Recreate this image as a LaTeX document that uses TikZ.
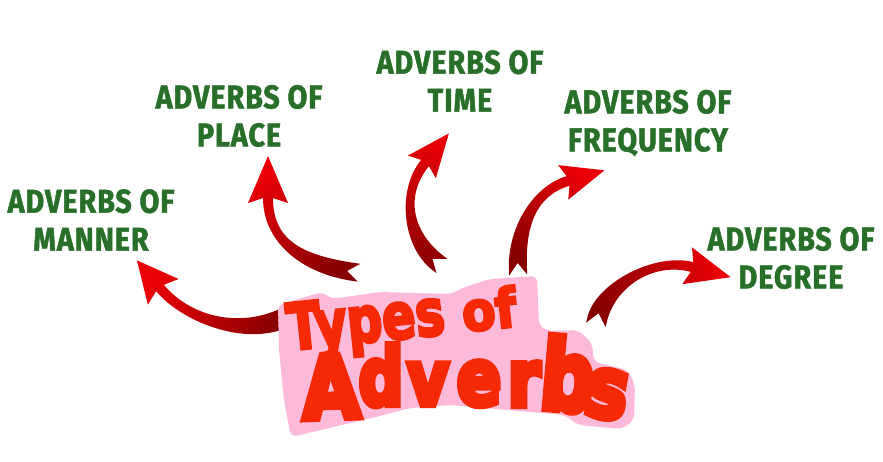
\documentclass[tikz,border=0pt]{standalone}
\usepackage{fontspec}
\setmainfont{Fira Sans}
\newfontfamily\titlefont[FakeBold=8]{DejaVu Sans}
\newfontfamily\titlefontB[FakeBold=5]{DejaVu Sans}
\newfontfamily\labelfont[FakeStretch=0.87,FakeBold=1.5,LetterSpace=3]{Fira Sans}
\usetikzlibrary{calc}
\definecolor{lblgreen}{RGB}{40,112,42}
\definecolor{titlered}{RGB}{245,42,5}
\definecolor{pinkbg}{RGB}{252,185,218}
\definecolor{arrowdark}{RGB}{135,0,0}
\definecolor{arrowbright}{RGB}{235,0,8}
\newcommand{\tarrow}[9]{%
 \coordinate (P0) at #1; \coordinate (P1) at #2; \coordinate (P2) at #3; \coordinate (P3) at #4;
 \coordinate (L0) at ($(P0)!#6!90:(P1)$);
 \coordinate (R0) at ($(P0)!#6!-90:(P1)$);
 \coordinate (L3) at ($(P3)!#7!-90:(P2)$);
 \coordinate (R3) at ($(P3)!#7!90:(P2)$);
 \coordinate (CL1) at ($(P1)+(L0)-(P0)$);
 \coordinate (CR1) at ($(P1)+(R0)-(P0)$);
 \coordinate (CL2) at ($(P2)+(L3)-(P3)$);
 \coordinate (CR2) at ($(P2)+(R3)-(P3)$);
 \coordinate (TP) at ($(P3)!-#8!(P2)$);
 \coordinate (Q) at ($(P3)!5pt!(P2)$);
 \coordinate (BL) at ($(Q)!#9!-90:(P2)$);
 \coordinate (BR) at ($(Q)!#9!90:(P2)$);
 \coordinate (NT) at ($(P0)!7pt!(P1)$);
 \coordinate (TL) at ($(L0)!-5pt!(CL1)$);
 \coordinate (TR) at ($(R0)!-5pt!(CR1)$);
 \shade[top color=arrowbright, bottom color=arrowdark, shading angle=#5]
   (TL) -- (L0) .. controls (CL1) and (CL2) .. (L3) -- (BL) -- (TP) -- (BR) -- (R3)
   .. controls (CR2) and (CR1) .. (R0) -- (TR) -- (NT) -- cycle;
}
\begin{document}
\begin{tikzpicture}[x=1pt,y=-1pt,
  lbl/.style={text=lblgreen, font=\labelfont\bfseries\fontsize{33}{38}\selectfont, align=center, inner sep=0pt},
  ttl/.style={text=titlered, inner sep=0pt, anchor=base}]
\fill[white] (0,0) rectangle (883,461);
\useasboundingbox (0,0) rectangle (883,461);

% arrows
\tarrow{(284,318)}{(240,338)}{(185,318)}{(160,288)}{67}{10pt}{5pt}{36pt}{20pt}
\tarrow{(354,272)}{(300,264)}{(268,240)}{(268,198)}{37}{9pt}{5pt}{42pt}{20pt}
\tarrow{(438,263)}{(408,240)}{(400,194)}{(425,163)}{-6}{9pt}{5pt}{38pt}{18pt}
\tarrow{(518,270)}{(516,228)}{(534,191)}{(568,181)}{-42}{9pt}{5pt}{38pt}{18pt}
\tarrow{(597,320)}{(605,285)}{(654,257)}{(692,267)}{-71}{10pt}{5pt}{40pt}{19pt}

% pink background of title
\fill[pinkbg, rounded corners=6pt] (278,305) -- (322,292) -- (332,299) -- (380,292) -- (452,294)
  -- (462,288) -- (490,279) -- (537,276) -- (539,326) -- (548,331) -- (578,330) -- (592,343)
  -- (594,362) -- (628,370) -- (635,385) -- (634,420) -- (622,429) -- (578,425) -- (565,415)
  -- (450,405) -- (410,408) -- (380,416) -- (291,437) -- (284,400) -- (279,350) -- cycle;

% title
\node[ttl, rotate=6] (types) at (368,342) {\titlefontB\bfseries\fontsize{64}{64}\selectfont\scalebox{0.77}[1]{Types}};
\node[ttl, rotate=6] (of) at (491,329) {\titlefontB\bfseries\fontsize{54}{54}\selectfont\scalebox{0.9}[1]{of}};
\node[ttl, rotate=2] (tA) at (332,418) {\titlefont\bfseries\fontsize{86}{86}\selectfont\scalebox{0.86}[1]{A}};
\node[ttl] (td) at (381,405) {\titlefont\bfseries\fontsize{80}{80}\selectfont\scalebox{0.78}[1]{d}};
\node[ttl] (tv) at (428,405) {\titlefont\bfseries\fontsize{76}{76}\selectfont\scalebox{0.84}[1]{v}};
\node[ttl] (te) at (479,405) {\titlefont\bfseries\fontsize{78}{78}\selectfont\scalebox{0.84}[1]{e}};
\node[ttl] (tr) at (524,406) {\titlefont\bfseries\fontsize{78}{78}\selectfont\scalebox{0.84}[1]{r}};
\node[ttl, rotate=-5] (tb) at (565,410) {\titlefont\bfseries\fontsize{96}{96}\selectfont\scalebox{0.78}[1]{b}};
\node[ttl, rotate=-10] (ts) at (603,417) {\titlefont\bfseries\fontsize{84}{84}\selectfont\scalebox{0.84}[1]{s}};

% labels
\node[lbl] (manner) at (91,220) {ADVERBS OF\\MANNER};
\node[lbl] (place) at (239,116) {ADVERBS OF\\PLACE};
\node[lbl] (time) at (460,81) {ADVERBS OF\\TIME};
\node[lbl] (freq) at (648,123) {ADVERBS OF\\FREQUENCY};
\node[lbl] (degree) at (791,258) {ADVERBS OF\\DEGREE};
\end{tikzpicture}
\end{document}
